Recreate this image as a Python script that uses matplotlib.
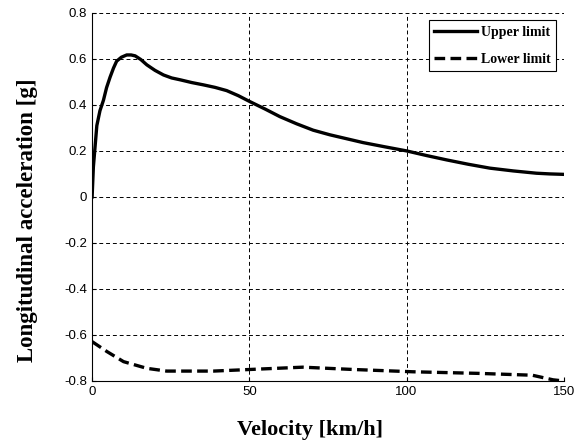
import numpy as np
import matplotlib.pyplot as plt
import matplotlib

matplotlib.rcParams['font.family'] = 'Liberation Sans'

# upper limit curve
v_up = [0, 0.4, 1.5, 2.5, 3.6, 4.6, 5.7, 6.8, 7.8, 9.3, 11, 12.4, 13.7, 15.5, 17.4,
        20, 22.7, 25.3, 28, 31.7, 35.4, 39.1, 42.8, 46.5, 50.2, 55, 59.7, 65,
        70.3, 75.6, 80.9, 86.2, 93, 100, 106.3, 112.7, 119.6, 126.5, 133.9,
        141.3, 145.5, 150]
a_up = [0, 0.13, 0.31, 0.375, 0.42, 0.475, 0.52, 0.56, 0.59, 0.607, 0.617, 0.617,
        0.613, 0.597, 0.574, 0.55, 0.53, 0.517, 0.509, 0.497, 0.487, 0.476,
        0.462, 0.44, 0.414, 0.382, 0.349, 0.318, 0.29, 0.27, 0.253, 0.236,
        0.218, 0.20, 0.18, 0.161, 0.142, 0.125, 0.113, 0.103, 0.10, 0.098]

# lower limit curve
v_lo = [0, 4.7, 10, 17.4, 23.7, 38.6, 50.2, 67, 83, 102, 123, 140, 146.6, 150]
a_lo = [-0.629, -0.672, -0.716, -0.745, -0.757, -0.757, -0.75, -0.74, -0.75,
        -0.76, -0.767, -0.775, -0.795, -0.80]

fig = plt.figure(figsize=(5.83, 4.43), dpi=100)
ax = fig.add_axes([0.158, 0.140, 0.809, 0.831])

ax.plot(v_up, a_up, color='black', linewidth=2.4, label='Upper limit')
ax.plot(v_lo, a_lo, color='black', linewidth=2.4, linestyle=(0, (3.2, 1.6)), label='Lower limit')

ax.set_xlim(0, 150)
ax.set_ylim(-0.8, 0.8)
ax.set_xticks([0, 50, 100, 150])
ax.set_yticks(np.arange(-0.8, 0.81, 0.2))
ax.set_yticklabels(['-0.8', '-0.6', '-0.4', '-0.2', '0', '0.2', '0.4', '0.6', '0.8'])
ax.tick_params(direction='in', labelsize=9.5, length=3, top=False, right=False)
ax.grid(True, color='black', linestyle=(0, (4, 3)), linewidth=0.7)

for s in ['top', 'right']:
    ax.spines[s].set_visible(False)

ax.set_xlabel('Velocity [km/h]', fontfamily='Liberation Serif', fontweight='bold',
              fontsize=16, va='center')
ax.set_ylabel('Longitudinal acceleration [g]', fontfamily='Liberation Serif',
              fontweight='bold', fontsize=16.5, va='center')
ax.xaxis.set_label_coords(0.462, -0.133)
ax.yaxis.set_label_coords(-0.138, 0.4375)

leg = ax.legend(loc='upper right', prop={'family': 'Liberation Serif', 'weight': 'bold', 'size': 10},
                fancybox=False, edgecolor='black', framealpha=1, handlelength=3.1,
                handletextpad=0.25, labelspacing=1.0, borderaxespad=0.55)
leg.get_frame().set_linewidth(0.8)

fig.savefig('out.png', dpi=100)
